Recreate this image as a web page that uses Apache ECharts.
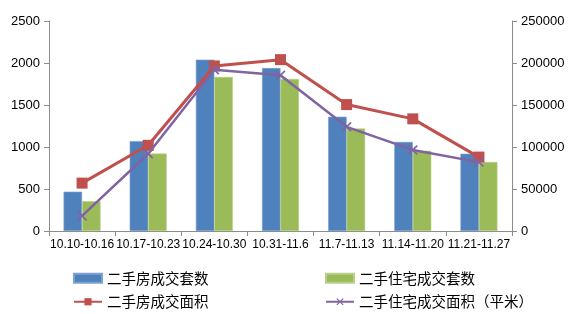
<!DOCTYPE html>
<html><head><meta charset="utf-8">
<script src="https://cdn.jsdelivr.net/npm/echarts@6/dist/echarts.min.js"></script>
<style>html,body{margin:0;padding:0;background:#fff}#c{width:577px;height:314px}</style>
</head><body><div id="c"></div>
<script>
const categories = ['10.10-10.16','10.17-10.23','10.24-10.30','10.31-11.6','11.7-11.13','11.14-11.20','11.21-11.27'];
const houseCount = [468, 1070, 2040, 1940, 1360, 1060, 920];
const residCount = [355, 922, 1835, 1810, 1220, 955, 822];
const houseArea = [57000, 102000, 196500, 204000, 150500, 133500, 88000];
const residArea = [18000, 92000, 192000, 185500, 124000, 96500, 82000];
const leftTicks = {min:0, max:2500, interval:500};
const rightTicks = {min:0, max:250000, interval:50000};

const names = ['二手房成交套数','二手住宅成交套数','二手房成交面积','二手住宅成交面积（平米）'];
const font = 'Liberation Sans, Arial, sans-serif';
const cjk = '"Noto Sans CJK SC", sans-serif';
const axisCol = '#8c8c8c';
const xShape = 'path://M0,1.2L1.2,0L5,3.8L8.8,0L10,1.2L6.2,5L10,8.8L8.8,10L5,6.2L1.2,10L0,8.8L3.8,5Z';
const plain = v => String(v);

const chart = echarts.init(document.getElementById('c'), null, {renderer:'canvas'});
const legendBase = {orient:'vertical', itemGap:9, itemWidth:28, itemHeight:9,
  textStyle:{fontFamily:cjk, fontSize:14.5, color:'#000'}};
chart.setOption({
  animation:false,
  backgroundColor:'#fff',
  grid:{left:49, right:65, top:21, bottom:83},
  legend:[
    Object.assign({left:68, top:266, data:[{name:names[0], icon:'rect'}, {name:names[2]}]}, legendBase),
    Object.assign({left:320, top:266, data:[{name:names[1], icon:'rect'}, {name:names[3]}]}, legendBase)
  ],
  xAxis:{type:'category', data:categories, boundaryGap:true,
    axisLine:{lineStyle:{color:axisCol}},
    axisTick:{show:true, length:5, alignWithLabel:false, lineStyle:{color:axisCol}},
    axisLabel:{interval:0, fontFamily:font, fontSize:12, color:'#000', margin:8}},
  yAxis:[
    {type:'value', min:leftTicks.min, max:leftTicks.max, interval:leftTicks.interval, position:'left',
     splitLine:{show:false}, axisLine:{show:true, lineStyle:{color:axisCol}},
     axisTick:{show:true, length:5, lineStyle:{color:axisCol}},
     axisLabel:{fontFamily:font, fontSize:13, color:'#000', margin:9, formatter:plain}},
    {type:'value', min:rightTicks.min, max:rightTicks.max, interval:rightTicks.interval, position:'right',
     splitLine:{show:false}, axisLine:{show:true, lineStyle:{color:axisCol}},
     axisTick:{show:true, length:5, lineStyle:{color:axisCol}},
     axisLabel:{fontFamily:font, fontSize:13, color:'#000', margin:9, formatter:plain}}
  ],
  series:[
    {name:names[0], type:'bar', data:houseCount, barWidth:18.5, barGap:'0%',
     itemStyle:{color:'#4F81BD', borderColor:'#7DA0CF', borderWidth:0.6}},
    {name:names[1], type:'bar', data:residCount, barWidth:18.5, barGap:'0%',
     itemStyle:{color:'#9BBB59', borderColor:'#B9D08A', borderWidth:0.6}},
    {name:names[2], type:'line', yAxisIndex:1, data:houseArea, symbol:'rect', symbolSize:11,
     lineStyle:{color:'#C0504D', width:3}, itemStyle:{color:'#C0504D'}, z:5},
    {name:names[3], type:'line', yAxisIndex:1, data:residArea, symbol:xShape, symbolSize:10,
     lineStyle:{color:'#8064A2', width:2.5}, itemStyle:{color:'#8064A2'}, z:6}
  ]
});
</script></body></html>
